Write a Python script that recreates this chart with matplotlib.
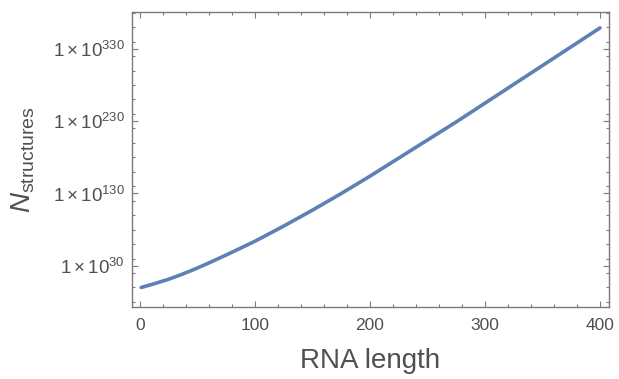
import numpy as np
import matplotlib.pyplot as plt
from matplotlib.ticker import MultipleLocator, FixedLocator, FuncFormatter

plt.rcParams['font.family'] = 'Liberation Sans'
plt.rcParams['mathtext.fontset'] = 'custom'
plt.rcParams['mathtext.rm'] = 'Liberation Sans'
plt.rcParams['mathtext.it'] = 'Liberation Sans:italic'

# RNA length vs. number of secondary structures (stored as log10, values exceed float range)
rna_length = [1, 12, 25, 37, 50, 62, 75, 100, 125, 150, 175, 200, 225, 250, 275,
              300, 325, 350, 375, 400]
log10_structures = [0, 5, 11.5, 18.5, 27, 35.5, 45, 64, 85, 107, 130, 154, 179, 204, 229,
                    255, 281, 307, 333, 359]

y_major = [30, 130, 230, 330]

frame_col = '#7a7a7a'
text_col = '#505050'
line_col = '#5e81b5'

fig = plt.figure(figsize=(6.19, 3.79), dpi=100)
ax = fig.add_axes([132 / 619, 72 / 379, 477 / 619, 295 / 379])

ax.plot(rna_length, log10_structures, color=line_col, lw=2.6,
        solid_capstyle='round', solid_joinstyle='round')

ax.set_xlim(-7, 407.8)
ax.set_ylim(-27, 381)

ax.xaxis.set_major_locator(MultipleLocator(100))
ax.xaxis.set_minor_locator(MultipleLocator(20))
ax.yaxis.set_major_locator(FixedLocator(y_major))
ax.yaxis.set_minor_locator(MultipleLocator(20))
ax.yaxis.set_major_formatter(FuncFormatter(lambda v, p: r'$1\times10^{%d}$' % v))

for s in ax.spines.values():
    s.set_color(frame_col)
    s.set_linewidth(1.0)

ax.tick_params(which='both', direction='in', top=True, right=True,
               color=frame_col, labelcolor=text_col, width=0.8)
ax.tick_params(which='major', length=4.5)
ax.tick_params(which='minor', length=2.5)
ax.tick_params(axis='x', which='major', pad=8, labelsize=12.5)
ax.tick_params(axis='y', which='major', pad=5, labelsize=13.5)

ax.set_xlabel('RNA length', fontsize=20, color=text_col, labelpad=11)
ax.set_ylabel(r'$N_{\mathrm{structures}}$', fontsize=20, color=text_col)
ax.yaxis.set_label_coords(-0.2, 0.5)

fig.savefig('out.png', dpi=100)
